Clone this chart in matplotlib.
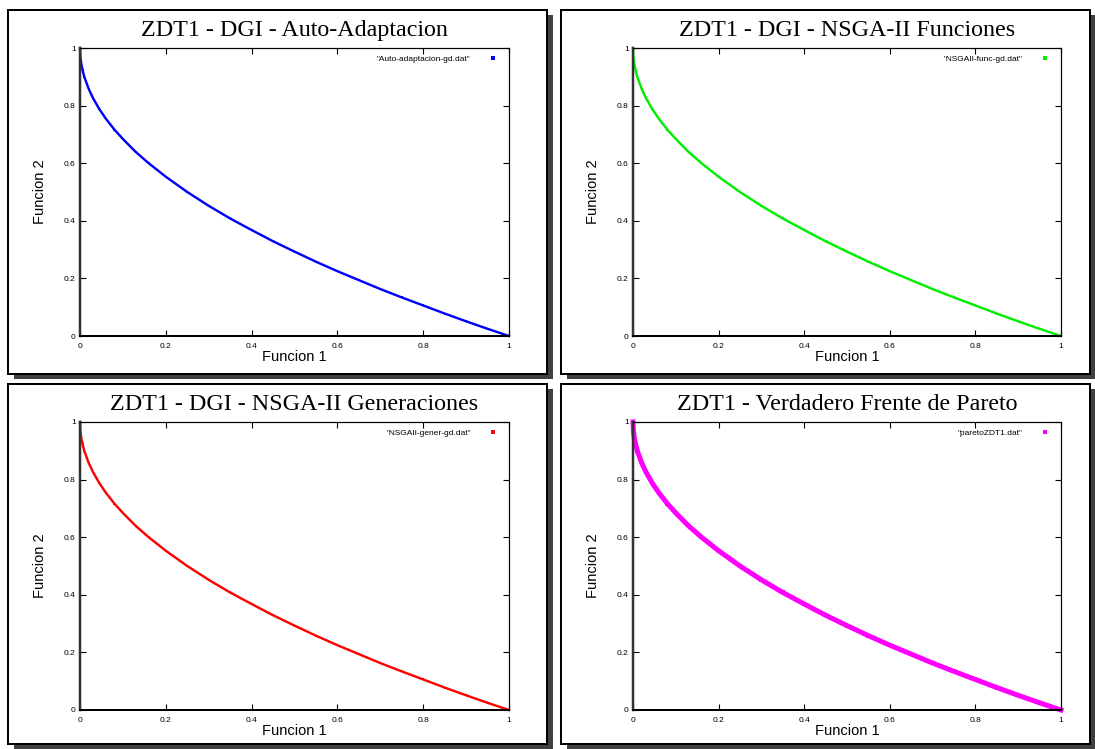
import matplotlib
matplotlib.use("Agg")
import matplotlib.pyplot as plt
from matplotlib.patches import Rectangle

W, H = 1095, 749

# ZDT1 front (Funcion 1, Funcion 2)
front_f1 = [0.0, 0.001, 0.003, 0.006, 0.01, 0.02, 0.03, 0.045, 0.06, 0.08,
            0.10, 0.13, 0.16, 0.20, 0.25, 0.30, 0.35, 0.40, 0.45, 0.50,
            0.55, 0.60, 0.65, 0.70, 0.75, 0.80, 0.85, 0.90, 0.95, 1.0]
front_f2 = [1.0, 0.968, 0.945, 0.923, 0.900, 0.859, 0.827, 0.788, 0.755, 0.717,
            0.684, 0.639, 0.600, 0.553, 0.500, 0.452, 0.408, 0.368, 0.329, 0.293,
            0.258, 0.225, 0.194, 0.163, 0.134, 0.106, 0.078, 0.051, 0.025, 0.0]

titles = ["ZDT1 - DGI - Auto-Adaptacion", "ZDT1 - DGI - NSGA-II Funciones",
          "ZDT1 - DGI - NSGA-II Generaciones", "ZDT1 - Verdadero Frente de Pareto"]
legend_labels = ['"Auto-adaptacion-gd.dat"', '"NSGAII-func-gd.dat"',
                 '"NSGAII-gener-gd.dat"', '"paretoZDT1.dat"']
colors = ["#0000ff", "#00ee00", "#ff0000", "#ff00ff"]
ticks = [0, 0.2, 0.4, 0.6, 0.8, 1]
tick_labels = ["0", "0.2", "0.4", "0.6", "0.8", "1"]

# pixel boxes: (left, top, right, bottom)
frames = [(8, 10, 547, 374), (561, 10, 1090, 374),
          (8, 384, 547, 744), (561, 384, 1090, 744)]
plot_boxes = [(80, 48, 509, 336), (633, 48, 1061, 336),
              (80, 422, 509, 710), (633, 422, 1061, 710)]

sans = ["Liberation Sans", "DejaVu Sans"]
serif = ["Liberation Serif", "DejaVu Serif"]
px = 0.72  # one pixel in points at dpi 100

fig = plt.figure(figsize=(W / 100, H / 100), dpi=100)
fig.patch.set_facecolor("white")


def fx(x):
    return x / W


def fy(y):
    return 1 - y / H


for (l, t, r, b) in frames:
    # drop shadow then the frame
    fig.patches.append(Rectangle((fx(l + 6), fy(b + 5)), fx(r - l), (b - t) / H,
                                 transform=fig.transFigure, facecolor="#404040",
                                 edgecolor="none", zorder=0))
    fig.patches.append(Rectangle((fx(l), fy(b)), fx(r - l), (b - t) / H,
                                 transform=fig.transFigure, facecolor="white",
                                 edgecolor="black", linewidth=2 * px, zorder=1))

for i, (l, t, r, b) in enumerate(plot_boxes):
    ax = fig.add_axes([fx(l), fy(b), fx(r - l), (b - t) / H])
    ax.set_zorder(2)
    thick = 5 * px if i == 3 else 2.4 * px
    ax.plot(front_f1, front_f2, color=colors[i], linewidth=thick,
            marker="s", markersize=thick * 0.9, markeredgewidth=0,
            label=legend_labels[i], clip_on=False)
    ax.set_xlim(0, 1)
    ax.set_ylim(0, 1)
    ax.set_xticks(ticks)
    ax.set_yticks(ticks)
    ax.set_xticklabels(tick_labels, fontfamily=sans, fontsize=6)
    ax.set_yticklabels(tick_labels, fontfamily=sans, fontsize=6)
    ax.tick_params(direction="in", length=4, width=0.8, top=True, right=True,
                   pad=3, colors="black")
    ax.tick_params(axis="x", pad=5)
    ax.spines["left"].set_linewidth(2.5 * px)
    ax.spines["left"].set_color("#333333")
    ax.spines["bottom"].set_linewidth(2 * px)
    for s in ("top", "right"):
        ax.spines[s].set_linewidth(1.2 * px)
    ax.set_xlabel("Funcion 1", fontfamily=sans, fontsize=10.5, labelpad=0)
    ax.set_ylabel("Funcion 2", fontfamily=sans, fontsize=10.5, labelpad=12)
    ax.set_title(titles[i], fontfamily=serif, fontsize=17.3, pad=8.5)
    leg = ax.legend(loc="upper right", frameon=False, markerfirst=False,
                    handlelength=2.2, handletextpad=1.6, borderaxespad=0.4,
                    prop={"family": sans, "size": 6})
    for h in leg.legend_handles:
        h.set_linestyle("none")
        h.set_markersize(3.5 if i == 3 else 2.5)

fig.savefig("out.png", dpi=100)
